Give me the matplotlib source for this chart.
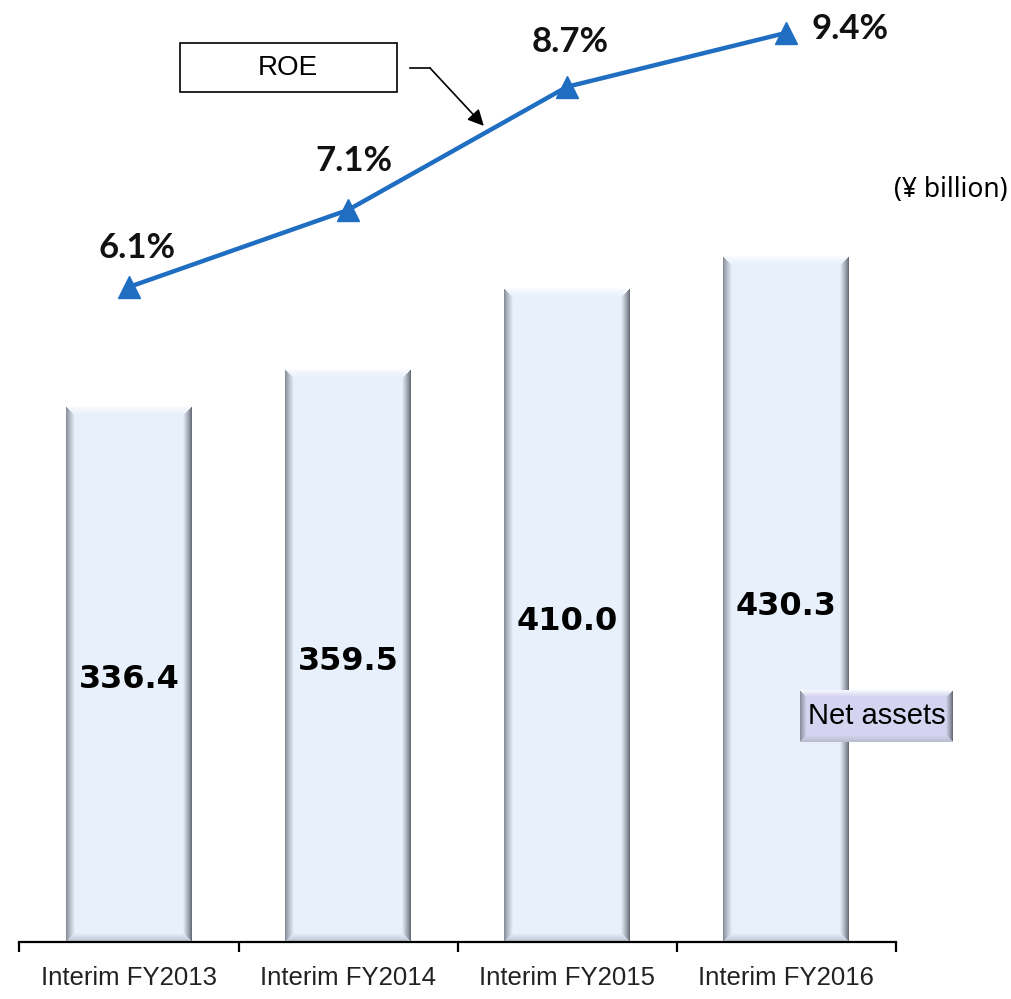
import matplotlib.pyplot as plt
import numpy as np
from matplotlib.patches import Rectangle
from matplotlib.lines import Line2D

# data
periods = ["Interim FY2013", "Interim FY2014", "Interim FY2015", "Interim FY2016"]
net_assets = [336.4, 359.5, 410.0, 430.3]
roe = [6.1, 7.1, 8.7, 9.4]
roe_labels = ["6.1%", "7.1%", "8.7%", "9.4%"]
asset_labels = ["336.4", "359.5", "410.0", "430.3"]

# label offsets (points) for the ROE labels
roe_offsets = [(6, 28), (4, 35), (2, 32), (46, 3)]

fig = plt.figure(figsize=(10.11, 9.99), dpi=100)
ax = fig.add_axes([0, 0, 1, 1])
x = np.arange(len(periods))

bar_w = 0.575
bars = ax.bar(x, net_assets, width=bar_w, color="none", edgecolor="none", zorder=2)
ax.set_xlim(-0.589, 4.027)
ax.set_ylim(-35.78, 591.34)


def bevel_image(wpx, hpx, base, b=9):
    # flat face with shaded bevelled edges
    wpx, hpx = int(round(wpx)), int(round(hpx))
    xx, yy = np.meshgrid(np.arange(wpx) + 0.5, np.arange(hpx) + 0.5)
    dl, dr, dt, db = xx, wpx - xx, yy, hpx - yy
    base = np.asarray(base)
    img = np.ones((hpx, wpx, 3)) * base
    edges = [(dl, np.array([0.50, 0.52, 0.56])),
             (dr, np.array([0.36, 0.38, 0.42])),
             (dt, np.array([0.985, 0.99, 1.0])),
             (db, np.array([0.70, 0.73, 0.78]))]
    m = np.minimum(np.minimum(dl, dr), np.minimum(dt, db))
    for d, col in edges:
        mask = (d == m) & (d < b)
        t = (d[mask] / b)[:, None] ** 0.8
        img[mask] = col * (1 - t) + base * t
    return img


fig.canvas.draw()
for rect in bars:
    x0, y0 = rect.get_x(), rect.get_y()
    w, h = rect.get_width(), rect.get_height()
    p0 = ax.transData.transform((x0, y0))
    p1 = ax.transData.transform((x0 + w, y0 + h))
    img = bevel_image(p1[0] - p0[0], p1[1] - p0[1], [0.910, 0.942, 0.988])
    ax.imshow(img, extent=(x0, x0 + w, y0, y0 + h), origin="upper",
              aspect="auto", interpolation="bilinear", zorder=2)
ax.set_xlim(-0.589, 4.027)
ax.set_ylim(-35.78, 591.34)

# value labels inside the bars
for xi, v, lab in zip(x, net_assets, asset_labels):
    ax.text(xi, v * 0.49, lab, ha="center", va="center", fontsize=23,
            fontweight="bold", family="DejaVu Sans", color="black", zorder=3)

# axis: line with boundary ticks, labels centred under the bars
for s in ["left", "right", "top"]:
    ax.spines[s].set_visible(False)
ax.spines["bottom"].set_position(("data", 0))
ax.spines["bottom"].set_bounds(-0.5, len(periods) - 0.5)
ax.spines["bottom"].set_linewidth(1.6)
ax.spines["bottom"].set_zorder(4)
ax.set_xticks(np.arange(len(periods) + 1) - 0.5)
ax.set_xticklabels([])
ax.tick_params(axis="x", which="major", direction="out", length=7.5, width=1.6)
ax.set_xticks(x, minor=True)
ax.set_xticklabels(periods, minor=True, fontsize=18.5, family="Liberation Sans",
                   color="#222222")
ax.tick_params(axis="x", which="minor", length=0, pad=17)
ax.set_yticks([])

# ROE line
ax2 = ax.twinx()
ax2.set_ylim(-3.147, 9.827)
ax2.axis("off")
ax2.plot(x, roe, color="#1F6EC1", lw=3.2, marker="^", ms=16,
         markeredgecolor="#1F6EC1", solid_capstyle="round")
for xi, v, lab, off in zip(x, roe, roe_labels, roe_offsets):
    ax2.annotate(lab, (xi, v), xytext=off, textcoords="offset points",
                 ha="center", va="center", fontsize=25, fontweight="bold",
                 family="Lato", color="#111111")

# ROE callout
fig.patches.append(Rectangle((180 / 1011, 1 - 92 / 999), 217 / 1011, 49 / 999,
                             transform=fig.transFigure, facecolor="white",
                             edgecolor="black", lw=1.2))
fig.text(288 / 1011, 1 - 68 / 999, "ROE", ha="center", va="center",
         fontsize=20, family="Liberation Sans")
fig.lines.append(Line2D([410 / 1011, 430 / 1011], [1 - 68 / 999, 1 - 68 / 999],
                        transform=fig.transFigure, color="black", lw=1.2))
tip_x = 1.62
ax2.annotate("", xy=(tip_x, np.interp(tip_x, x, roe) + 0.1),
             xytext=(430 / 1011, 1 - 68 / 999), textcoords="figure fraction",
             arrowprops=dict(arrowstyle="-|>", color="black", lw=1.2,
                             mutation_scale=24, shrinkA=0, shrinkB=0))

# unit note
fig.text(1008 / 1011, 1 - 190 / 999, "(¥ billion)", ha="right", va="center",
         fontsize=19, family="Noto Sans")

# series tag: bevelled lavender box
tag_x0, tag_x1 = 800 / 1011, 953 / 1011
tag_y0, tag_y1 = 1 - 742 / 999, 1 - 690 / 999
tag_img = bevel_image(153, 52, [0.835, 0.835, 0.945], b=7)
tag_ax = fig.add_axes([tag_x0, tag_y0, tag_x1 - tag_x0, tag_y1 - tag_y0])
tag_ax.imshow(tag_img, aspect="auto", interpolation="bilinear")
tag_ax.axis("off")
tag_ax.text(0.5, 0.5, "Net assets", transform=tag_ax.transAxes, ha="center",
            va="center", fontsize=21, family="Liberation Sans", color="black")

fig.savefig("out.png", dpi=100)
